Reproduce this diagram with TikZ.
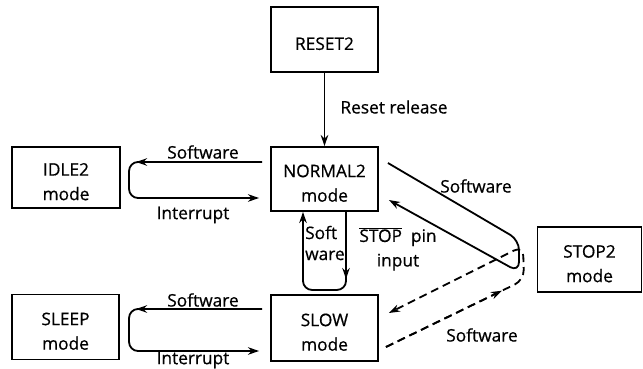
\documentclass[tikz,border=0pt]{standalone}
\usepackage{fontspec}
\setmainfont{Open Sans}[FakeBold=0.6]
\usetikzlibrary{arrows.meta,calc}
\newcommand\bxtxt[1]{\raisebox{-9.8pt}[0pt][0pt]{\begin{tabular}{@{}c@{}}#1\end{tabular}}}
\begin{document}
\begin{tikzpicture}[x=1pt,y=-1pt,
  box/.style={draw,line width=1.9pt,minimum width=107pt,minimum height=64pt,inner sep=0pt},
  lbl/.style={inner sep=0pt,align=center},
  conn/.style={line width=1.8pt},
  arr/.style={conn,-{Stealth[length=11pt,width=7.5pt]}},
  dsh/.style={dash pattern=on 8pt off 5pt},
  font=\fontsize{17.3}{24.5}\selectfont]
\useasboundingbox (0,0) rectangle (643,369);
% boxes
\node[box,minimum height=65pt] (reset) at (324.5,39.5) {\bxtxt{RESET2}};
\node[box] (normal) at (324.5,179) {\bxtxt{NORMAL2\\mode}};
\node[box,minimum width=108pt,minimum height=61pt] (idle) at (66,177.5) {\bxtxt{IDLE2\\mode}};
\node[box,minimum height=65pt] (sleep) at (65.5,327) {\bxtxt{SLEEP\\mode}};
\node[box,minimum height=66pt] (slow) at (324.5,328) {\bxtxt{SLOW\\mode}};
\node[box,minimum width=104pt,minimum height=65pt] (stop) at (589.5,259.5) {\bxtxt{STOP2\\mode}};
% reset -> normal
\draw[arr] (reset) -- (normal);
\node[lbl] (lreset) at (394,107) {Reset release};
% normal <-> idle loop
\coordinate (nw1) at ($(normal.west)+(-8,-17)$);
\coordinate (nw2) at ($(normal.west)+(-11,19)$);
\draw[arr,rounded corners=9pt] (nw1) -- ++(-133,0) -- ++(0,36) -- (nw2);
\draw[arr] (nw1) -- ++(-126,0);
\node[lbl] (lidsw) at (203,152) {Software};
\node[lbl] (lidint) at (193,215) {Interrupt};
% slow <-> sleep loop
\coordinate (sw1) at ($(slow.west)+(-8,-19)$);
\coordinate (sw2) at ($(slow.west)+(-11,23)$);
\draw[arr,rounded corners=9pt] (sw1) -- ++(-133,0) -- ++(0,42) -- (sw2);
\draw[arr] (sw1) -- ++(-126,0);
\node[lbl] (lslsw) at (203,300) {Software};
\node[lbl,anchor=south] (lslint) at (193,368.5) {Interrupt};
% normal <-> slow loop
\coordinate (ns1) at ($(normal.south)+(21.5,0)$);
\coordinate (ns2) at ($(normal.south)+(-21.5,0)$);
\draw[arr,rounded corners=9pt] (ns1) -- ++(0,78) -- ++(-43,0) -- (ns2);
\draw[arr] (ns1) -- ++(0,67);
\node[lbl,anchor=west,align=left,font=\fontsize{17.3}{21}\selectfont] (lsoft) at (305,243) {Soft\\ware};
\node[lbl] (lstop) at (398,249) {$\overline{\hbox{STOP}}$\ \ pin\\input};
% normal <-> stop2
\coordinate (ne1) at ($(normal.east)+(9,-16)$);
\coordinate (ne2) at ($(normal.east)+(10,21)$);
\draw[arr,rounded corners=10pt] (ne1) -- (519,240) -- (519,272) -- (ne2);
\node[lbl] (lnsw) at (476,186) {Software};
% slow <-> stop2 (dashed)
\coordinate (se1) at ($(slow.east)+(7,19)$);
\coordinate (se2) at ($(slow.east)+(10,-15)$);
\coordinate (sc1) at (524,280);
\draw[arr,dsh,rounded corners=10pt] (se1) -- (sc1) -- (523,246) -- (se2);
\draw[arr,dsh] (se1) -- ($(se1)!0.84!(sc1)$);
\node[lbl] (lssw) at (482,335) {Software};
\end{tikzpicture}
\end{document}
